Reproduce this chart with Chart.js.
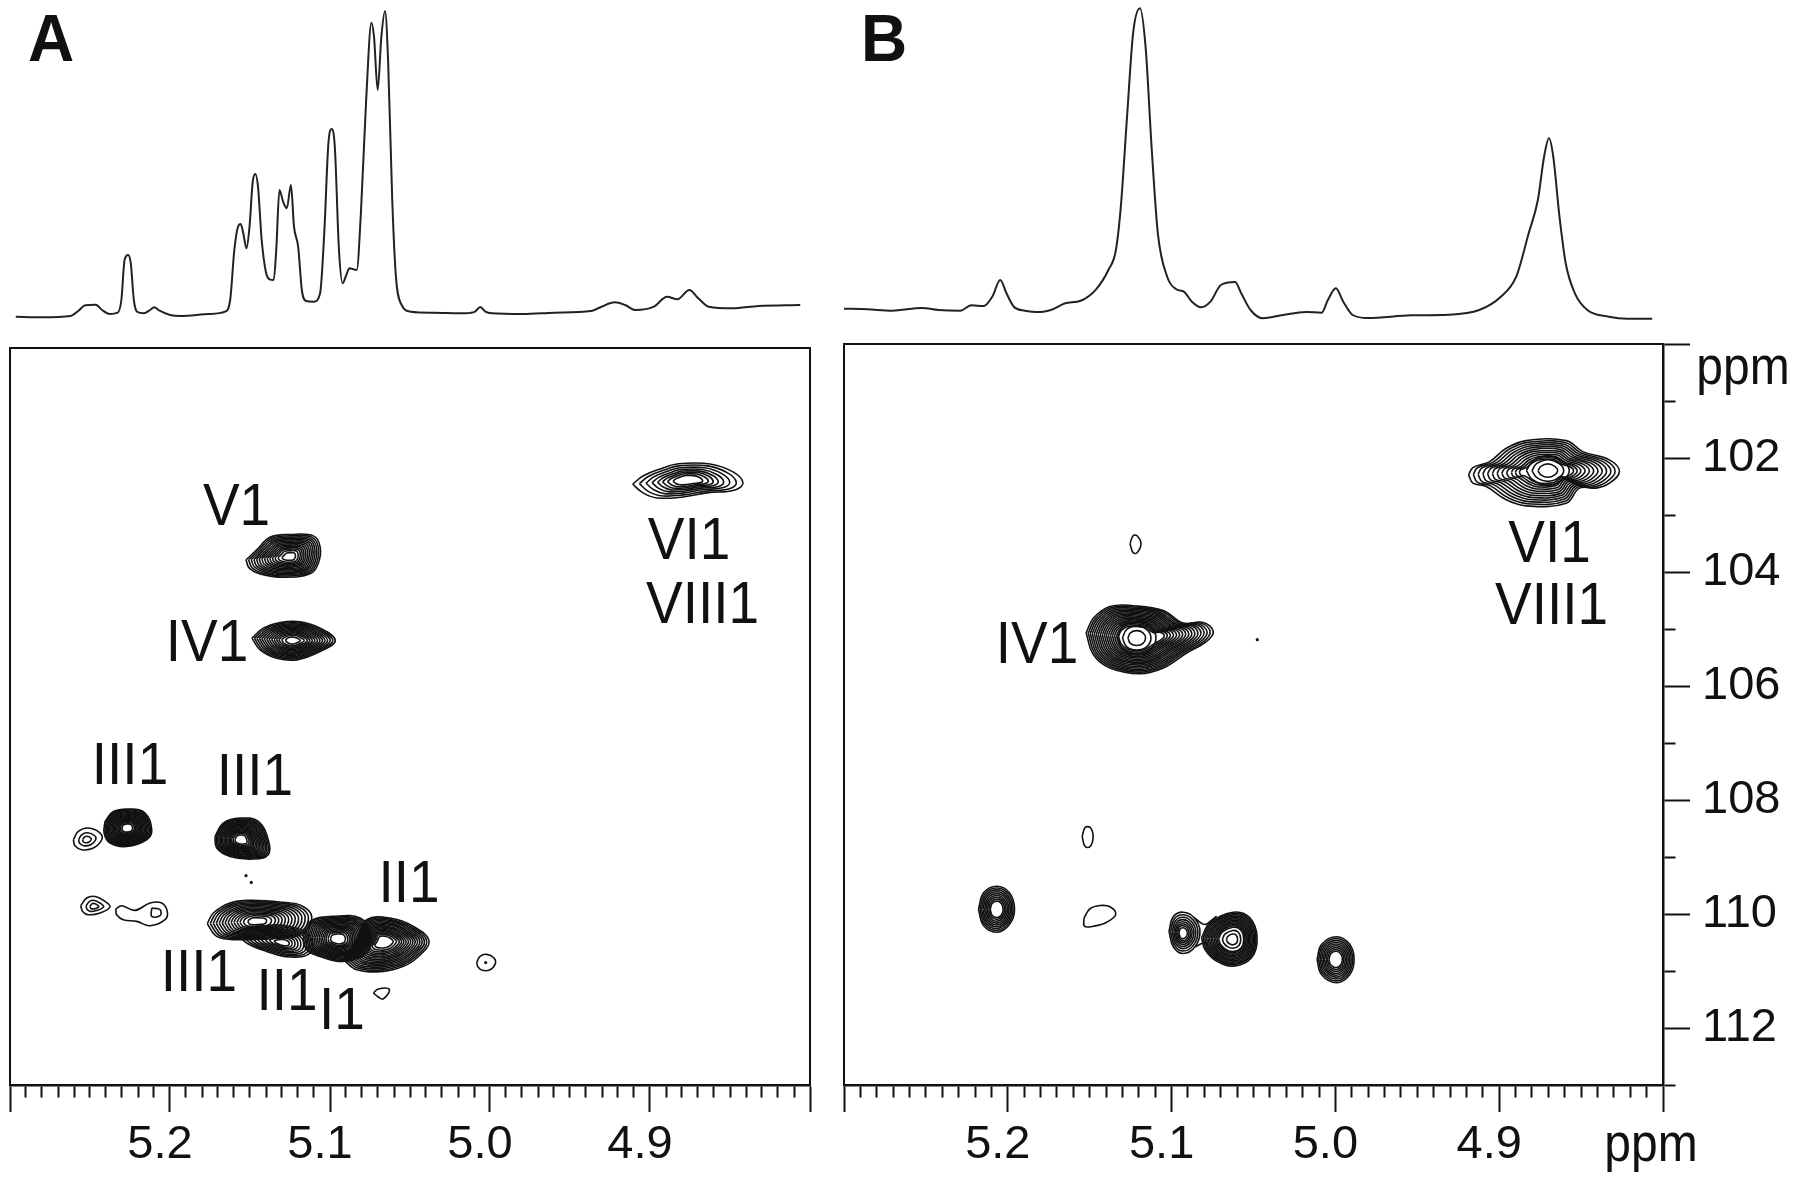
<!DOCTYPE html>
<html>
<head>
<meta charset="utf-8">
<title>HSQC anomeric region</title>
<script src="https://cdn.jsdelivr.net/npm/chart.js@4/dist/chart.umd.min.js"></script>
<style>
  html, body { margin: 0; padding: 0; background: #fff; }
  body { width: 1800px; height: 1182px; position: relative; overflow: hidden; }
  canvas { position: absolute; }
</style>
</head>
<body>
<canvas id="specA" width="830" height="330" style="left:0;top:0"></canvas>
<canvas id="specB" width="970" height="330" style="left:830px;top:0"></canvas>
<canvas id="mapA" width="830" height="882" style="left:0;top:300px"></canvas>
<canvas id="mapB" width="970" height="892" style="left:830px;top:290px"></canvas>
<script>
// 1D proton traces (ppm, height above the frame)
const specAppm = [5.2964,5.2801,5.2621,5.2572,5.2530,5.2464,5.2425,5.2376,5.2327,5.2304,5.2284,5.2262,5.2245,5.2226,5.2206,5.2164,5.2124,5.2098,5.2065,5.2000,5.1934,5.1755,5.1656,5.1624,5.1598,5.1575,5.1558,5.1542,5.1522,5.1503,5.1483,5.1467,5.1450,5.1427,5.1401,5.1378,5.1352,5.1336,5.1316,5.1293,5.1270,5.1244,5.1225,5.1199,5.1176,5.1150,5.1101,5.1062,5.1036,5.1010,5.0990,5.0970,5.0944,5.0921,5.0898,5.0879,5.0833,5.0807,5.0774,5.0741,5.0725,5.0702,5.0679,5.0656,5.0637,5.0611,5.0588,5.0552,5.0496,5.0349,5.0153,5.0094,5.0061,5.0029,4.9990,4.9793,4.9597,4.9368,4.9303,4.9221,4.9156,4.9090,4.8976,4.8894,4.8829,4.8754,4.8698,4.8633,4.8486,4.8322,4.8061];
const specAint = [3.3,2.7,4,9.3,14.7,15.3,10,6,7.3,20,60,65,56.7,20,8.3,6.7,10,12.7,9.3,5,4,6,8.3,20,70,93.3,96,86.7,71.7,93.3,138.3,146,133.3,80,48.3,40.7,40,70,130,118.3,111.7,135,93.3,73.3,30,19,18.3,26.7,86.7,176.7,191,173.3,70,36.7,45,51.7,50,106.7,220,297.3,283.3,230,283.3,309,260,120,43.3,15,8.3,7.3,6.7,8.3,13,8.3,6.7,6,7.3,9,13.3,17.7,15,10,13.3,23.3,20.7,30,21.7,13.3,11.7,14,15];
const specBppm = [5.3000,5.2857,5.2706,5.2525,5.2423,5.2291,5.2223,5.2147,5.2095,5.2046,5.2008,5.1963,5.1895,5.1800,5.1725,5.1650,5.1555,5.1461,5.1386,5.1340,5.1310,5.1272,5.1235,5.1193,5.1159,5.1121,5.1084,5.1027,5.0971,5.0925,5.0876,5.0820,5.0763,5.0699,5.0612,5.0575,5.0518,5.0442,5.0329,5.0178,5.0084,5.0046,4.9997,4.9952,4.9895,4.9801,4.9537,4.9311,4.9122,4.8990,4.8896,4.8820,4.8764,4.8726,4.8696,4.8670,4.8632,4.8594,4.8538,4.8462,4.8330,4.8217,4.8066];
const specBint = [11.3,10.7,9.3,12,10,9.3,14.7,14,23.3,40,26.7,13.3,9.3,8,10.7,16.7,19.3,30.7,50,70,113.3,203.3,286.7,311.7,273.3,170,86.7,43.3,30.7,28.3,18.3,12.7,18.3,35,38,26.7,10,1.7,4.7,8,7.3,20,31.7,18.3,5,2,4.7,5.3,10,23.3,43.3,86.7,120,163.3,181.7,163.3,103.3,56.7,26.7,10,3.3,1.3,1.3];

// outermost contour of each cross peak in panel A, [1H ppm, 13C ppm]
const a_vi1 = [[4.9108,102.403],[4.9044,102.257],[4.8919,102.116],[4.8831,102.045],[4.8625,102.045],[4.8481,102.186],[4.8419,102.380],[4.8469,102.503],[4.8644,102.556],[4.8794,102.627],[4.8956,102.645],[4.9044,102.556]];
const a_v1 = [[5.1525,103.738],[5.1458,103.561],[5.1375,103.337],[5.1250,103.291],[5.1104,103.314],[5.1062,103.503],[5.1073,103.796],[5.1125,103.984],[5.1292,104.043],[5.1437,103.984],[5.1504,103.884]];
const a_iv1 = [[5.1488,105.118],[5.1417,104.942],[5.1312,104.843],[5.1187,104.831],[5.1062,104.942],[5.0967,105.160],[5.1062,105.354],[5.1208,105.501],[5.1333,105.471],[5.1437,105.324]];
const a_iii1a = [[5.2406,108.351],[5.2354,108.175],[5.2250,108.132],[5.2156,108.203],[5.2114,108.498],[5.2146,108.674],[5.2271,108.792],[5.2375,108.732],[5.2412,108.556]];
const a_iii1b = [[5.1719,108.615],[5.1667,108.380],[5.1562,108.292],[5.1448,108.351],[5.1386,108.674],[5.1386,108.938],[5.1479,109.014],[5.1625,108.968],[5.1708,108.820]];
const a_side1 = [[5.2604,108.674],[5.2573,108.528],[5.2511,108.468],[5.2437,108.556],[5.2427,108.674],[5.2479,108.820],[5.2552,108.850],[5.2594,108.780]];
const a_side2 = [[5.2558,109.838],[5.2521,109.702],[5.2469,109.674],[5.2406,109.762],[5.2375,109.861],[5.2437,109.966],[5.2511,109.996],[5.2546,109.938]];
const a_wiggle = [[5.2339,109.895],[5.2302,109.838],[5.2219,109.920],[5.2125,109.790],[5.2052,109.790],[5.2017,109.938],[5.2031,110.084],[5.2125,110.190],[5.2208,110.114],[5.2292,110.084],[5.2333,109.996]];
const a_wiggleIn = [[5.2114,109.878],[5.2062,109.908],[5.2062,110.014],[5.2114,110.026]];
const a_iii1c = [[5.1767,110.155],[5.1729,109.966],[5.1625,109.790],[5.1500,109.744],[5.1292,109.779],[5.1177,109.838],[5.1114,110.037],[5.1167,110.319],[5.1292,110.407],[5.1583,110.437],[5.1708,110.379]];
const a_ii1low = [[5.1583,110.319],[5.1458,110.203],[5.1250,110.203],[5.1125,110.379],[5.1125,110.672],[5.1250,110.742],[5.1396,110.643],[5.1521,110.495]];
const a_ii1 = [[5.1167,110.379],[5.1125,110.114],[5.0979,110.026],[5.0812,110.055],[5.0750,110.319],[5.0771,110.672],[5.0917,110.820],[5.1062,110.732],[5.1146,110.614]];
const a_i1 = [[5.0917,110.790],[5.0823,110.379],[5.0771,110.084],[5.0625,110.055],[5.0479,110.203],[5.0381,110.467],[5.0458,110.760],[5.0542,110.907],[5.0667,110.995],[5.0833,110.966]];
const a_small = [[5.0083,110.837],[5.0062,110.731],[5.0021,110.696],[4.9975,110.759],[4.9967,110.860],[5.0000,110.966],[5.0046,110.977],[5.0075,110.918]];
const a_tiny = [[5.0729,111.377],[5.0698,111.306],[5.0629,111.318],[5.0667,111.482],[5.0698,111.447]];
const a_dots = [[5.1525,109.308],[5.1492,109.426],[5.0027,110.84]];

// same for panel B, the two big peaks also have a round core read separately
const b_vi1 = [[4.9187,102.296],[4.9160,102.168],[4.9058,102.063],[4.8957,101.828],[4.8835,101.695],[4.8591,101.695],[4.8490,101.888],[4.8327,102.033],[4.8266,102.238],[4.8327,102.442],[4.8408,102.529],[4.8510,102.529],[4.8591,102.792],[4.8835,102.840],[4.8957,102.734],[4.9079,102.501],[4.9160,102.442]];
const b_vi1Core = [[4.8800,102.221],[4.8772,102.100],[4.8703,102.030],[4.8634,102.100],[4.8606,102.221],[4.8634,102.340],[4.8703,102.410],[4.8772,102.340]];
const b_iv1 = [[5.1522,105.071],[5.1477,104.808],[5.1376,104.605],[5.1234,104.592],[5.1051,104.675],[5.0929,104.896],[5.0807,104.885],[5.0746,105.043],[5.0786,105.218],[5.0908,105.421],[5.1051,105.684],[5.1193,105.784],[5.1376,105.684],[5.1477,105.451]];
const b_iv1Core = [[5.1300,105.158],[5.1275,105.010],[5.1213,104.950],[5.1151,105.010],[5.1126,105.158],[5.1151,105.310],[5.1213,105.370],[5.1275,105.310]];
const b_top = [[5.1254,103.506],[5.1235,103.365],[5.1211,103.365],[5.1187,103.506],[5.1211,103.663],[5.1235,103.663]];
const b_mid = [[5.1546,108.641],[5.1528,108.483],[5.1497,108.483],[5.1479,108.641],[5.1497,108.817],[5.1528,108.817]];
const b_p520 = [[5.2179,109.921],[5.2148,109.628],[5.2067,109.512],[5.1990,109.628],[5.1959,109.921],[5.1990,110.184],[5.2067,110.319],[5.2148,110.201]];
const b_loop = [[5.1534,110.066],[5.1498,109.908],[5.1437,109.851],[5.1376,109.873],[5.1341,110.008],[5.1396,110.144],[5.1477,110.214],[5.1532,110.214]];
const b_p509 = [[5.1016,110.301],[5.0990,110.049],[5.0929,109.968],[5.0862,110.066],[5.0827,110.301],[5.0857,110.574],[5.0929,110.692],[5.0990,110.574]];
const b_p506 = [[5.0817,110.417],[5.0766,110.154],[5.0624,109.968],[5.0522,110.066],[5.0478,110.417],[5.0512,110.767],[5.0624,110.915],[5.0725,110.827],[5.0796,110.622]];
const b_p500 = [[5.0112,110.797],[5.0085,110.534],[4.9993,110.399],[4.9912,110.534],[4.9886,110.797],[4.9912,111.060],[4.9993,111.206],[5.0085,111.060]];
const b_neckTop = [[5.0862,110.066],[5.0796,110.184],[5.0725,110.038]];
const b_neckLow = [[5.0857,110.574],[5.0796,110.500],[5.0780,110.560]];
const b_dots = [[5.0477,105.188]];

// contour levels as a fraction of the outer contour
const blobLevels = [1,.95,.9,.85,.8,.75,.7,.65,.6,.55,.5,.45,.4,.35,.29,.22];
const openBlobLevels = [1,.94,.88,.82,.76,.7,.64,.58,.52,.46,.4,.34,.27,.18];
const wideLevels = [1,.88,.76,.65,.55,.46,.37,.27];
const bigLevels = [1,.94,.88,.82,.76,.7,.64,.58,.52,.46,.41,.36];
const iv1Levels = [1,.96,.92,.88,.84,.8,.76,.72,.68,.64,.6,.56,.52,.48,.44,.4,.36];
const ovalLevels = [1,.92,.84,.76,.68,.6,.52,.44,.36];
const midLevels = [1,.9,.8,.7,.6,.5,.4,.3,.2];
const smallLevels = [1,.6,.3];
const coreLevels = [1.35,1,.62];
const oneLevel = [1];

const tickLabels13C = [102,104,106,108,110,112];
const tickLabels1H = [5.2,5.1,5.0,4.9];
const peakNamesA = ['V1','IV1','VI1','VIII1','III1','III1','II1','III1','II1','I1'];
const peakSpotsA = [[5.1584,102.786],[5.1769,105.183],[4.8756,103.385],[4.8671,104.513],[5.2250,107.352],[5.1469,107.546],[5.0506,109.432],[5.1819,111.001],[5.1269,111.336],[5.0925,111.671]];
const peakNamesB = ['VI1','VIII1','IV1'];
const peakSpotsB = [[4.8693,103.488],[4.8680,104.575],[5.1821,105.258]];

const INK = '#111';

function rings (outline, center, levels)
{
	return levels.map((level) => {
		const pts = outline.map((p) => ({
			x: center[0] + level * (p[0] - center[0]),
			y: center[1] + level * (p[1] - center[1])
		}));
		pts.push(pts[0]);
		return { data: pts, showLine: true, borderColor: INK, borderWidth: 1.6, pointRadius: 0, tension: 0.4 };
	});
}

function openLine (points)
{
	return { data: points.map((p) => ({ x: p[0], y: p[1] })), showLine: true, borderColor: INK, borderWidth: 1.7, pointRadius: 0, tension: 0.3 };
}

function dots (points)
{
	return { data: points.map((p) => ({ x: p[0], y: p[1] })), showLine: false, pointRadius: 1.6, pointBackgroundColor: INK, pointBorderWidth: 0 };
}

const datasetsA = [].concat(
	rings(a_vi1, [4.8763,102.327], wideLevels),
	rings(a_v1, [5.1250,103.68], openBlobLevels),
	rings(a_iv1, [5.1233,105.16], openBlobLevels),
	rings(a_iii1a, [5.2267,108.468], blobLevels),
	rings(a_iii1b, [5.1558,108.674], blobLevels),
	rings(a_side1, [5.2521,108.674], smallLevels),
	rings(a_side2, [5.2475,109.85], smallLevels),
	rings(a_wiggle, [5.2170,109.98], oneLevel),
	rings(a_wiggleIn, [5.2088,109.95], oneLevel),
	rings(a_ii1low, [5.1292,110.495], midLevels),
	rings(a_iii1c, [5.1458,110.114], openBlobLevels),
	rings(a_ii1, [5.0948,110.425], blobLevels),
	rings(a_i1, [5.0667,110.467], blobLevels),
	rings(a_small, [5.0027,110.84], oneLevel),
	rings(a_tiny, [5.0680,111.38], oneLevel),
	[dots(a_dots)]
);

const datasetsB = [].concat(
	rings(b_vi1, [4.8703,102.221], bigLevels),
	rings(b_vi1Core, [4.8703,102.221], coreLevels),
	rings(b_iv1, [5.1213,105.158], iv1Levels),
	rings(b_iv1Core, [5.1213,105.158], coreLevels),
	rings(b_top, [5.1220,103.51], oneLevel),
	rings(b_mid, [5.1512,108.65], oneLevel),
	rings(b_p520, [5.2067,109.921], ovalLevels),
	rings(b_loop, [5.1437,110.03], oneLevel),
	rings(b_p509, [5.0932,110.342], wideLevels),
	rings(b_p506, [5.0627,110.447], blobLevels.slice(0, 12).concat([.33,.2])),
	rings(b_p500, [4.9998,110.797], ovalLevels),
	[openLine(b_neckTop), openLine(b_neckLow), dots(b_dots)]
);

// Text on the panels; the original figure is a little taller than it is wide so stretch it
function stretchedText (ctx, text, x, y, font, stretch)
{
	ctx.save();
	ctx.translate(x, y);
	ctx.scale(1, stretch);
	ctx.font = font;
	ctx.fillStyle = INK;
	ctx.textAlign = 'center';
	ctx.textBaseline = 'middle';
	ctx.fillText(text, 0, 0);
	ctx.restore();
}

function frameAndLabels (names, spots, extras)
{
	return {
		id: 'frameAndLabels',
		afterDraw: function (chart) {
			const ctx = chart.ctx;
			const area = chart.chartArea;
			ctx.save();
			ctx.strokeStyle = INK;
			ctx.lineWidth = 2;
			ctx.beginPath();
			ctx.moveTo(area.left, area.bottom);
			ctx.lineTo(area.left, area.top);
			ctx.lineTo(area.right, area.top);
			ctx.lineTo(area.right, area.bottom);
			ctx.stroke();
			ctx.restore();
			names.forEach((name, i) => {
				stretchedText(ctx, name, chart.scales.x.getPixelForValue(spots[i][0]), chart.scales.y.getPixelForValue(spots[i][1]) + 3, '55px "Liberation Sans"', 1.07);
			});
			extras.forEach((e) => {
				stretchedText(ctx, e[0], e[1], e[2], '48px "Liberation Sans"', 1.12);
			});
		}
	};
}

function letterPlugin (letter, x)
{
	return {
		id: 'panelLetter',
		afterDraw: function (chart) {
			stretchedText(chart.ctx, letter, x, 43, 'bold 64px "Liberation Sans"', 1.03);
		}
	};
}

function isLabelled1H (value)
{
	return tickLabels1H.some((t) => Math.abs(t - value) < 0.001);
}

function x1HScale ()
{
	return {
		type: 'linear',
		position: 'bottom',
		reverse: true,
		min: 4.8,
		max: 5.3,
		afterFit: function (scale) { scale.height = 97; },
		border: { color: INK, width: 2.5 },
		grid: {
			drawOnChartArea: false,
			tickLength: 27,
			tickColor: INK,
			tickWidth: 2,
			// minor ticks: same line, dashed off after the first 11 px
			tickBorderDash: (ctx) => (Math.round(ctx.tick.value * 100) % 10 === 0 ? [] : [11, 100])
		},
		ticks: {
			stepSize: 0.01,
			autoSkip: false,
			maxRotation: 0,
			padding: 5,
			labelOffset: -10,
			color: INK,
			font: { family: '"Liberation Sans"', size: 47 },
			callback: (value) => (isLabelled1H(value) ? value.toFixed(1) : '')
		}
	};
}

function mapChart (id, datasets, yScale, plugin, padding)
{
	return new Chart(document.getElementById(id), {
		type: 'scatter',
		data: { datasets: datasets },
		options: {
			responsive: false,
			animation: false,
			layout: { padding: padding },
			plugins: { legend: { display: false }, tooltip: { enabled: false } },
			scales: { x: x1HScale(), y: yScale }
		},
		plugins: [plugin]
	});
}

function spectrumChart (id, ppm, intensity, letter, letterX, padding)
{
	return new Chart(document.getElementById(id), {
		type: 'line',
		data: {
			datasets: [{
				data: ppm.map((p, i) => ({ x: p, y: intensity[i] })),
				borderColor: '#222',
				borderWidth: 2,
				pointRadius: 0,
				cubicInterpolationMode: 'monotone'
			}]
		},
		options: {
			responsive: false,
			animation: false,
			parsing: false,
			layout: { padding: padding },
			plugins: { legend: { display: false }, tooltip: { enabled: false } },
			scales: {
				x: { type: 'linear', display: false, reverse: true, min: 4.8, max: 5.3 },
				y: { type: 'linear', display: false, min: 0, max: 320 }
			}
		},
		plugins: [letterPlugin(letter, letterX)]
	});
}

spectrumChart('specA', specAppm, specAint, 'A', 51, { left: 10, right: 20, top: 0, bottom: 10 });
spectrumChart('specB', specBppm, specBint, 'B', 54, { left: 14, right: 137, top: 0, bottom: 10 });

mapChart('mapA', datasetsA,
	{ type: 'linear', display: false, reverse: true, min: 100, max: 113 },
	frameAndLabels(peakNamesA, peakSpotsA, []),
	{ left: 10, right: 20, top: 48, bottom: 0 });

mapChart('mapB', datasetsB,
	{
		type: 'linear',
		position: 'right',
		reverse: true,
		min: 100,
		max: 113,
		afterFit: function (scale) { scale.width = 137; },
		border: { color: INK, width: 2.5 },
		grid: {
			drawOnChartArea: false,
			tickLength: 27,
			tickColor: INK,
			tickWidth: 2,
			tickBorderDash: (ctx) => (ctx.tick.value % 2 === 0 ? [] : [11, 100])
		},
		ticks: {
			stepSize: 1,
			autoSkip: false,
			padding: 12,
			color: INK,
			font: { family: '"Liberation Sans"', size: 47 },
			callback: (value) => (tickLabels13C.includes(value) ? String(value) : '')
		}
	},
	frameAndLabels(peakNamesB, peakSpotsB, [['ppm', 913, 79], ['ppm', 821, 856]]),
	{ left: 14, right: 0, top: 54, bottom: 0 });
</script>
</body>
</html>
